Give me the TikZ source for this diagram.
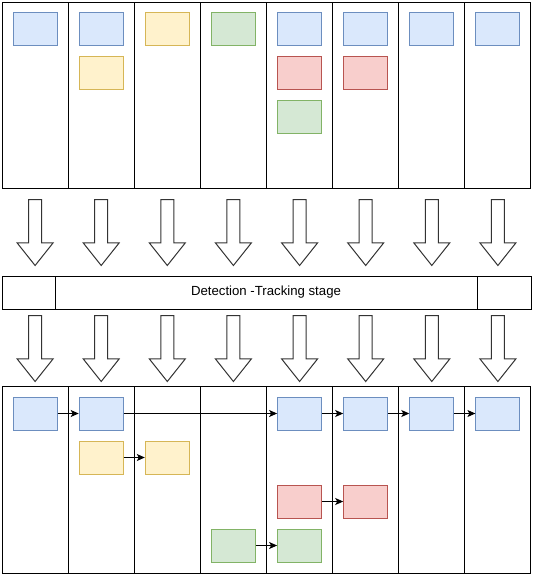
\documentclass[tikz,border=0pt]{standalone}
\usepackage{fontspec}
\setmainfont{Liberation Sans}
\usetikzlibrary{arrows.meta, shapes.arrows}
\definecolor{bf}{HTML}{DAE8FC}
\definecolor{bd}{HTML}{6C8EBF}
\definecolor{yf}{HTML}{FFF2CC}
\definecolor{yd}{HTML}{D6B656}
\definecolor{gf}{HTML}{D5E8D4}
\definecolor{gd}{HTML}{82B366}
\definecolor{rf}{HTML}{F8CECC}
\definecolor{rd}{HTML}{B85450}

\begin{document}
\begin{tikzpicture}[
      x = 1pt, y = -1pt, % one unit per pixel, y downwards
      > = {Stealth[length = 8pt, width = 7pt, inset = 2pt]}, % arrow head style
      line width = 1pt, % line style
    ]

    \tikzstyle{col}=[
      draw = black,
      rectangle,
      inner sep = 0pt,
      minimum width = 66.1pt,
      minimum height = 186pt
    ]
    \tikzstyle{box}=[
      rectangle,
      inner sep = 0pt,
      minimum width = 44pt,
      minimum height = 33pt
    ]
    \tikzstyle{blue}=[box, fill = bf, draw = bd]
    \tikzstyle{yel}=[box, fill = yf, draw = yd]
    \tikzstyle{grn}=[box, fill = gf, draw = gd]
    \tikzstyle{red}=[box, fill = rf, draw = rd]
    \tikzstyle{down}=[
      single arrow,
      draw = black!80,
      fill = white,
      anchor = tail,
      shape border rotate = 270,
      inner sep = 6pt,
      minimum height = 66pt,
      single arrow head extend = 11.5pt,
      single arrow tip angle = 77
    ]

    \useasboundingbox (0, 0) rectangle (534, 576);

    % frames before tracking
    \node[col] (t1) [at={(35.1, 95)}] {};
    \node[col] (t2) [at={(101.2, 95)}] {};
    \node[col] (t3) [at={(167.3, 95)}] {};
    \node[col] (t4) [at={(233.4, 95)}] {};
    \node[col] (t5) [at={(299.6, 95)}] {};
    \node[col] (t6) [at={(365.7, 95)}] {};
    \node[col] (t7) [at={(431.8, 95)}] {};
    \node[col] (t8) [at={(497.9, 95)}] {};

    \node[blue] (a1) [at={(35.1, 28.5)}] {};
    \node[blue] (a2) [at={(101.2, 28.5)}] {};
    \node[yel] (y2) [at={(101.2, 72.5)}] {};
    \node[yel] (y3) [at={(167.3, 28.5)}] {};
    \node[grn] (g4) [at={(233.4, 28.5)}] {};
    \node[blue] (a5) [at={(299.6, 28.5)}] {};
    \node[red] (r5) [at={(299.6, 72.5)}] {};
    \node[grn] (g5) [at={(299.6, 116.5)}] {};
    \node[blue] (a6) [at={(365.7, 28.5)}] {};
    \node[red] (r6) [at={(365.7, 72.5)}] {};
    \node[blue] (a7) [at={(431.8, 28.5)}] {};
    \node[blue] (a8) [at={(497.9, 28.5)}] {};

    \node[down] (u1) [at={(35.1, 199)}] {};
    \node[down] (u2) [at={(101.2, 199)}] {};
    \node[down] (u3) [at={(167.3, 199)}] {};
    \node[down] (u4) [at={(233.4, 199)}] {};
    \node[down] (u5) [at={(299.6, 199)}] {};
    \node[down] (u6) [at={(365.7, 199)}] {};
    \node[down] (u7) [at={(431.8, 199)}] {};
    \node[down] (u8) [at={(497.9, 199)}] {};

    % stage bar
    \node[draw, rectangle, minimum width = 53pt, minimum height = 33pt] (m1) [at={(28.5, 292.5)}] {};
    \node[draw, rectangle, minimum width = 422pt, minimum height = 33pt,
      font = \fontsize{13.2}{15}\selectfont] (m2) [at={(266, 292.5)}] {Detection -Tracking stage};
    \node[draw, rectangle, minimum width = 54pt, minimum height = 33pt] (m3) [at={(504, 292.5)}] {};

    \node[down] (v1) [at={(35.1, 315)}] {};
    \node[down] (v2) [at={(101.2, 315)}] {};
    \node[down] (v3) [at={(167.3, 315)}] {};
    \node[down] (v4) [at={(233.4, 315)}] {};
    \node[down] (v5) [at={(299.6, 315)}] {};
    \node[down] (v6) [at={(365.7, 315)}] {};
    \node[down] (v7) [at={(431.8, 315)}] {};
    \node[down] (v8) [at={(497.9, 315)}] {};

    % frames after tracking
    \node[col, minimum height = 187pt] (b1) [at={(35.1, 479.5)}] {};
    \node[col, minimum height = 187pt] (b2) [at={(101.2, 479.5)}] {};
    \node[col, minimum height = 187pt] (b3) [at={(167.3, 479.5)}] {};
    \node[col, minimum height = 187pt] (b4) [at={(233.4, 479.5)}] {};
    \node[col, minimum height = 187pt] (b5) [at={(299.6, 479.5)}] {};
    \node[col, minimum height = 187pt] (b6) [at={(365.7, 479.5)}] {};
    \node[col, minimum height = 187pt] (b7) [at={(431.8, 479.5)}] {};
    \node[col, minimum height = 187pt] (b8) [at={(497.9, 479.5)}] {};

    \node[blue] (p1) [at={(35.1, 413.5)}] {};
    \node[blue] (p2) [at={(101.2, 413.5)}] {};
    \node[blue] (p5) [at={(299.6, 413.5)}] {};
    \node[blue] (p6) [at={(365.7, 413.5)}] {};
    \node[blue] (p7) [at={(431.8, 413.5)}] {};
    \node[blue] (p8) [at={(497.9, 413.5)}] {};
    \node[yel] (q2) [at={(101.2, 457.5)}] {};
    \node[yel] (q3) [at={(167.3, 457.5)}] {};
    \node[red] (s5) [at={(299.6, 501.5)}] {};
    \node[red] (s6) [at={(365.7, 501.5)}] {};
    \node[grn] (h4) [at={(233.4, 545.5)}] {};
    \node[grn] (h5) [at={(299.6, 545.5)}] {};

    \path[->] (p1) edge node {} (p2);
    \path[->] (p2) edge node {} (p5);
    \path[->] (p5) edge node {} (p6);
    \path[->] (p6) edge node {} (p7);
    \path[->] (p7) edge node {} (p8);
    \path[->] (q2) edge node {} (q3);
    \path[->] (s5) edge node {} (s6);
    \path[->] (h4) edge node {} (h5);
  \end{tikzpicture}
\end{document}
